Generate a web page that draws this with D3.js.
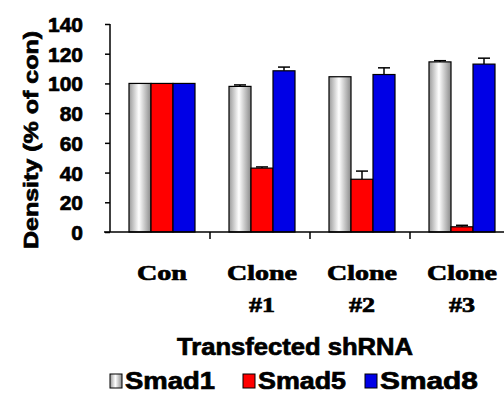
<!DOCTYPE html>
<html>
<head>
<meta charset="utf-8">
<script src="https://cdn.jsdelivr.net/npm/d3@7"></script>
<style>
  body { margin: 0; background: #fff; }
  text { font-family: "Liberation Sans", Arial, sans-serif; font-weight: bold; fill: #000; stroke: #000; stroke-width: 0.7px; }
  text.serif { font-family: "Liberation Serif", "Times New Roman", serif; }
</style>
</head>
<body>
<div id="chart"></div>
<script>
var groups = ["Con", "Clone #1", "Clone #2", "Clone #3"];
var series = ["Smad1", "Smad5", "Smad8"];
var smad1 = [100, 98, 104.5, 114.5];
var smad5 = [100, 43, 35.5, 3.5];
var smad8 = [100, 108.5, 106, 113];
var smad1Err = [0, 1, 0, 0.8];
var smad5Err = [0, 0.8, 5.5, 1];
var smad8Err = [0, 2.5, 4.5, 4];
var yTicks = [0, 20, 40, 60, 80, 100, 120, 140];

var colors = {Smad1: "url(#whiteGrad)", Smad5: "#ff0000", Smad8: "#0000e6"};

var width = 504, height = 393;
var svg = d3.select("#chart").append("svg")
    .attr("width", width)
    .attr("height", height);

var defs = svg.append("defs");
var grad = defs.append("linearGradient").attr("id", "whiteGrad");
grad.append("stop").attr("offset", "0%").attr("stop-color", "#9a9a9a");
grad.append("stop").attr("offset", "45%").attr("stop-color", "#ffffff");
grad.append("stop").attr("offset", "100%").attr("stop-color", "#8a8a8a");

var x0 = d3.scaleBand()
    .domain(groups)
    .range([110, 510]);

var x1 = d3.scaleBand()
    .domain(series)
    .range([19, 85]);

var y = d3.scaleLinear()
    .domain([0, 140])
    .range([232, 24]);

var data = groups.map(function(g, i) {
  return [
    {group: g, key: "Smad1", v: smad1[i], e: smad1Err[i]},
    {group: g, key: "Smad5", v: smad5[i], e: smad5Err[i]},
    {group: g, key: "Smad8", v: smad8[i], e: smad8Err[i]}
  ];
});

var gGroups = svg.selectAll("g.grp")
    .data(data)
    .enter().append("g")
    .attr("class", "grp")
    .attr("transform", function(d, i) { return "translate(" + x0(groups[i]) + ",0)"; });

// error bars, upward only
gGroups.selectAll("g.err")
    .data(function(d) { return d.filter(function(b) { return b.e > 0; }); })
    .enter().append("g")
    .attr("class", "err")
    .each(function(d) {
      var cx = x1(d.key) + x1.bandwidth() / 2;
      var g = d3.select(this);
      g.append("line")
        .attr("x1", cx).attr("x2", cx)
        .attr("y1", y(d.v)).attr("y2", y(d.v + d.e))
        .attr("stroke", "#000").attr("stroke-width", 1.5);
      g.append("line")
        .attr("x1", cx - 6).attr("x2", cx + 6)
        .attr("y1", y(d.v + d.e)).attr("y2", y(d.v + d.e))
        .attr("stroke", "#000").attr("stroke-width", 1.5);
    });

gGroups.selectAll("rect")
    .data(function(d) { return d; })
    .enter().append("rect")
    .attr("x", function(d) { return x1(d.key); })
    .attr("y", function(d) { return y(d.v); })
    .attr("width", x1.bandwidth())
    .attr("height", function(d) { return y(0) - y(d.v); })
    .attr("fill", function(d) { return colors[d.key]; })
    .attr("stroke", "#000")
    .attr("stroke-width", 1.2);

// y axis
var yAxis = d3.axisLeft(y)
    .tickValues(yTicks)
    .tickSize(5)
    .tickPadding(22);

var ya = svg.append("g")
    .attr("transform", "translate(110,0)")
    .call(yAxis);
ya.select(".domain").attr("stroke", "#000").attr("stroke-width", 1.5).attr("d", "M0," + y(140) + "V" + y(0));
ya.selectAll(".tick line").attr("stroke", "#000").attr("stroke-width", 1.5);
ya.selectAll(".tick text")
    .attr("fill", "#000")
    .style("font-size", "21px")
    .attr("dy", "0.36em");

// x axis
var xa = svg.append("g")
    .attr("transform", "translate(0," + y(0) + ")");
xa.append("line")
    .attr("x1", 104).attr("x2", 504)
    .attr("stroke", "#000").attr("stroke-width", 1.5);
xa.selectAll("line.tk")
    .data(groups.slice(1))
    .enter().append("line")
    .attr("class", "tk")
    .attr("x1", function(d) { return x0(d); })
    .attr("x2", function(d) { return x0(d); })
    .attr("y1", 0).attr("y2", 7)
    .attr("stroke", "#000").attr("stroke-width", 1.5);

var catWidths = {"Con": 50, "Clone": 70, "#1": 26, "#2": 26, "#3": 26};
var labels = svg.selectAll("text.cat")
    .data(groups)
    .enter().append("text")
    .attr("class", "cat serif")
    .attr("text-anchor", "middle")
    .style("font-size", "21px")
    .attr("transform", function(d) { return "translate(" + (x0(d) + x0.bandwidth() / 2 + 2) + ",280)"; });
labels.each(function(d) {
  var parts = d.split(" ");
  var t = d3.select(this);
  parts.forEach(function(p, i) {
    t.append("tspan")
      .attr("x", 0)
      .attr("dy", i === 0 ? 0 : 32)
      .attr("textLength", catWidths[p])
      .attr("lengthAdjust", "spacingAndGlyphs")
      .text(p);
  });
});

svg.append("text")
    .attr("x", 295)
    .attr("y", 355)
    .attr("text-anchor", "middle")
    .style("font-size", "23px")
    .attr("textLength", 236)
    .attr("lengthAdjust", "spacingAndGlyphs")
    .text("Transfected shRNA");

svg.append("text")
    .attr("transform", "translate(38,140) rotate(-90)")
    .attr("text-anchor", "middle")
    .style("font-size", "21px")
    .attr("textLength", 218)
    .attr("lengthAdjust", "spacingAndGlyphs")
    .text("Density (% of con)");

// legend
var legendX = [110, 243, 365];
var legendW = [90, 88, 98];
var leg = svg.selectAll("g.leg")
    .data(series)
    .enter().append("g")
    .attr("class", "leg")
    .attr("transform", function(d, i) { return "translate(" + legendX[i] + ",374)"; });
leg.append("rect")
    .attr("width", 12).attr("height", 14)
    .attr("fill", function(d) { return colors[d]; })
    .attr("stroke", "#000").attr("stroke-width", 1);
leg.append("text")
    .attr("x", 15).attr("y", 15)
    .style("font-size", "23px")
    .attr("textLength", function(d, i) { return legendW[i]; })
    .attr("lengthAdjust", "spacingAndGlyphs")
    .text(function(d) { return d; });
</script>
</body>
</html>
